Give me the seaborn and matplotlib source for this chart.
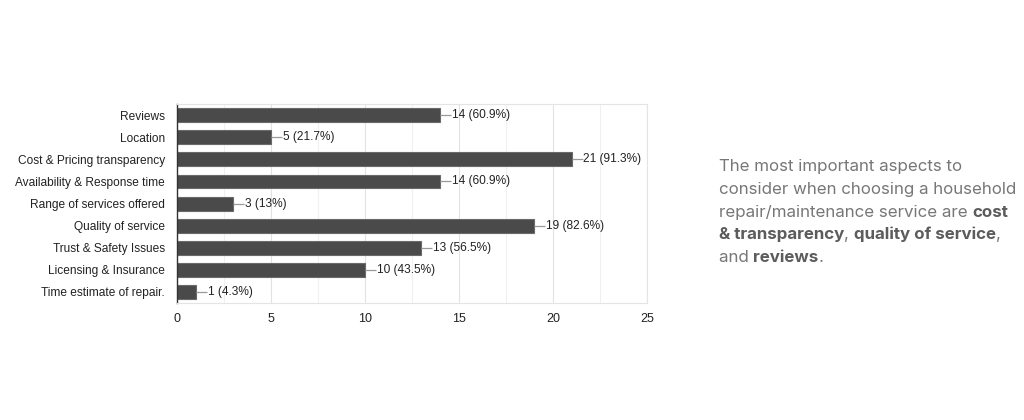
import matplotlib
matplotlib.use("Agg")
import matplotlib.pyplot as plt
import seaborn as sns
import pandas as pd
from matplotlib.ticker import MultipleLocator

categories = ["Reviews", "Location", "Cost & Pricing transparency",
              "Availability & Response time", "Range of services offered",
              "Quality of service", "Trust & Safety Issues",
              "Licensing & Insurance", "Time estimate of repair."]
counts = [14, 5, 21, 14, 3, 19, 13, 10, 1]
percents = ["60.9%", "21.7%", "91.3%", "60.9%", "13%", "82.6%", "56.5%", "43.5%", "4.3%"]
xticks = [0, 5, 10, 15, 20, 25]

sns.set_theme(style="white")
plt.rcParams["font.family"] = ["Liberation Sans", "DejaVu Sans"]

df = pd.DataFrame({"category": categories, "count": counts})

fig = plt.figure(figsize=(10.24, 4.2), dpi=100)
ax = fig.add_axes([0.1729, 0.2786, 0.6318 - 0.1729, 0.752 - 0.2786])

sns.barplot(data=df, x="count", y="category", orient="h", color="#4a4a4a",
            saturation=1, width=0.63, edgecolor="#6a6a6a", linewidth=0.8, ax=ax)

for i, (c, p) in enumerate(zip(counts, percents)):
    ax.plot([c, c + 0.58], [i, i], color="#9a9a9a", linewidth=0.9, solid_capstyle="butt")
    ax.text(c + 0.62, i, f"{c} ({p})", va="center", ha="left",
            fontsize=8.6, color="#222222")

ax.set_xlim(0, 25)
ax.set_ylim(len(categories) - 0.5, -0.5)
ax.set_xticks(xticks)
ax.xaxis.set_minor_locator(MultipleLocator(2.5))
ax.grid(axis="x", which="major", color="#e2e2e2", linewidth=0.8)
ax.grid(axis="x", which="minor", color="#f0f0f0", linewidth=0.8)
ax.set_axisbelow(True)
ax.set_xlabel("")
ax.set_ylabel("")
for s in ["top", "right", "bottom"]:
    ax.spines[s].set_color("#e4e4e4")
    ax.spines[s].set_linewidth(0.8)
ax.spines["left"].set_color("#333333")
ax.spines["left"].set_linewidth(1.0)
ax.tick_params(axis="both", length=0, labelsize=8.6, labelcolor="#222222", pad=8.7)
ax.tick_params(axis="x", pad=7, labelsize=9)

# Rich annotation text
lines = [
    [("The most important aspects to", False)],
    [("consider when choosing a household", False)],
    [("repair/maintenance service are ", False), ("cost", True)],
    [("& transparency", True), (", ", False), ("quality of service", True), (",", False)],
    [("and ", False), ("reviews", True), (".", False)],
]
x0 = 719 / 1024
y_top = 1 - 174 / 420
dy = 22.75 / 420
for li, parts in enumerate(lines):
    y = y_top - li * dy
    prev = None
    for txt, bold in parts:
        kw = dict(fontsize=12.2, family=["Inter", "DejaVu Sans"],
                  color="#5c5c5c" if bold else "#777777",
                  fontweight="bold" if bold else "normal")
        if prev is None:
            prev = fig.text(x0, y, txt, ha="left", va="bottom", **kw)
        else:
            prev = ax.annotate(txt, xy=(1, 0), xycoords=prev, ha="left",
                               va="bottom", annotation_clip=False, **kw)

fig.savefig("out.png", dpi=100, facecolor="white")
